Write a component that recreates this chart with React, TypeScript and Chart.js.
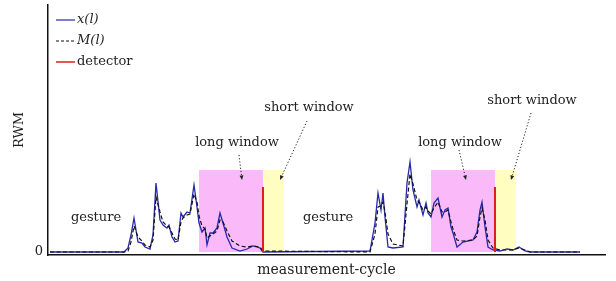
import React, { useEffect, useRef } from "react";
import { Chart, registerables } from "chart.js";

Chart.register(...registerables);

// measurement-cycle positions of the sampled points
const cycles = [
  1, 38, 40, 41.5, 43, 45, 47, 48.5, 51, 52.5, 54, 56, 57.5, 59.5, 60.5, 62, 63.5, 65, 66.5, 67.5,
  69.5, 71, 73, 74.5, 75.5, 77, 78.5, 79.5, 81, 82.5, 84.5, 86, 87.5, 89.5, 92, 96, 99.5, 102.5,
  106, 107.5, 161, 163.5, 165, 166.5, 167.5, 168.5, 170, 172.5, 177.5, 179.5, 181, 182.5, 184.5,
  185.5, 187.5, 189, 190, 191.5, 193, 195, 197, 198.5, 200, 201.5, 202.5, 204.5, 207.5, 212.5,
  214.5, 216, 217, 218.5, 220, 222.5, 226, 229.5, 232.5, 235.5, 238.5, 241, 266,
];
// RWM signal x(l)
const xValues = [
  0, 0, 0.4, 1.7, 3.4, 1.0, 0.9, 0.5, 0.3, 1.7, 6.9, 3.2, 2.7, 2.4, 2.7, 1.5, 1.0, 1.1, 3.9, 3.5,
  4.0, 3.9, 6.7, 4.5, 2.9, 2.0, 2.4, 0.7, 1.9, 1.9, 2.4, 3.9, 2.9, 1.5, 0.4, 0.1, 0.3, 0.6,
  0.4, 0, 0.1, 2.9, 5.9, 4.2, 5.9, 3.5, 0.5, 0.4, 0.5, 6.9, 9.0, 6.2, 4.5,
  5.2, 3.7, 4.9, 3.9, 3.5, 4.9, 5.4, 3.5, 4.2, 4.4, 2.5, 1.9, 0.5, 1.0, 1.2,
  2.0, 4.2, 5.0, 2.5, 0.5, 0.2, 0.1, 0.3, 0.2, 0.5, 0.1, 0, 0,
];
// smoothed signal M(l)
const mValues = [
  0, 0, 0.1, 1.0, 2.6, 1.5, 1.1, 0.7, 0.5, 1.2, 5.5, 4.0, 3.0, 2.6, 2.5, 1.9, 1.3, 1.2, 3.0, 3.4,
  3.7, 3.8, 5.8, 5.0, 3.6, 2.6, 2.3, 1.4, 1.6, 1.8, 2.1, 3.2, 3.0, 2.1, 1.1, 0.6, 0.5, 0.6,
  0.5, 0.1, 0, 1.8, 4.5, 4.6, 5.0, 4.0, 1.8, 0.8, 0.6, 4.8, 7.8, 6.8, 5.2,
  5.0, 4.2, 4.5, 4.1, 3.8, 4.4, 5.0, 4.0, 4.0, 4.2, 3.0, 2.3, 1.2, 1.1, 1.2,
  1.6, 3.5, 4.4, 3.2, 1.2, 0.4, 0.2, 0.2, 0.2, 0.4, 0.2, 0, 0,
];
// windows
const longWindowStart = [75.5, 191.5];
const detectorCycle = [107.5, 223.5];
const shortWindowEnd = [118, 234];
const windowHeight = 8.2;
const detectorHeight = 6.5;
// annotation texts
const gestureLabelCycle = [24, 140];
const gestureLabelValue = 3.4;
const longLabelCycle = [94.5, 206];
const longLabelValue = 10.9;
const shortLabelCycle = [130.5, 242];
const shortLabelValue = [14.4, 15.1];
// dotted arrows: [fromCycle, fromValue, toCycle, toValue]
const longArrows = [
  [95.5, 9.7, 97, 7.2],
  [205.5, 10.2, 209, 7.2],
];
const shortArrows = [
  [129.5, 13.1, 116, 7.2],
  [241.5, 13.9, 231.5, 7.2],
];

const yMin = -0.3;
const yMax = 24.7;
const xMin = 0;
const xMax = 278.5;

const SERIF = "'DejaVu Serif', 'Liberation Serif', serif";
const BLUE = "rgb(40,40,170)";
const RED = "rgb(225,30,30)";
const PINK = "rgb(250,186,250)";
const YELLOW = "rgb(255,253,192)";

export default function App() {
  const ref = useRef<HTMLCanvasElement | null>(null);

  useEffect(() => {
    document.body.style.margin = "0";
    const canvas = ref.current;
    if (!canvas) return;

    const xData = cycles.map((c, i) => ({ x: c, y: xValues[i] }));
    const mData = cycles.map((c, i) => ({ x: c, y: mValues[i] }));
    const detData: any[] = [];
    detectorCycle.forEach((c, i) => {
      detData.push({ x: c, y: 0 }, { x: c, y: detectorHeight });
      if (i < detectorCycle.length - 1) detData.push({ x: c + 1, y: null });
    });

    const windowsPlugin = {
      id: "windows",
      beforeDatasetsDraw(chart: any) {
        const { ctx, scales } = chart;
        const xs = scales.x;
        const ys = scales.y;
        ctx.save();
        longWindowStart.forEach((s, i) => {
          const top = ys.getPixelForValue(windowHeight);
          const base = ys.getPixelForValue(0);
          const x0 = xs.getPixelForValue(s);
          const x1 = xs.getPixelForValue(detectorCycle[i]);
          const x2 = xs.getPixelForValue(shortWindowEnd[i]);
          ctx.fillStyle = PINK;
          ctx.fillRect(x0, top, x1 - x0, base - top);
          ctx.fillStyle = YELLOW;
          ctx.fillRect(x1, top, x2 - x1, base - top);
        });
        ctx.restore();
      },
    };

    const drawArrow = (ctx: any, xs: any, ys: any, a: number[]) => {
      const x0 = xs.getPixelForValue(a[0]);
      const y0 = ys.getPixelForValue(a[1]);
      const x1 = xs.getPixelForValue(a[2]);
      const y1 = ys.getPixelForValue(a[3]);
      const ang = Math.atan2(y1 - y0, x1 - x0);
      const hl = 5;
      ctx.save();
      ctx.strokeStyle = "#222";
      ctx.lineWidth = 1;
      ctx.setLineDash([1.2, 2]);
      ctx.beginPath();
      ctx.moveTo(x0, y0);
      ctx.lineTo(x1 - Math.cos(ang) * hl, y1 - Math.sin(ang) * hl);
      ctx.stroke();
      ctx.setLineDash([]);
      ctx.fillStyle = "#222";
      ctx.beginPath();
      ctx.moveTo(x1, y1);
      ctx.lineTo(x1 - hl * Math.cos(ang - 0.4), y1 - hl * Math.sin(ang - 0.4));
      ctx.lineTo(x1 - hl * Math.cos(ang + 0.4), y1 - hl * Math.sin(ang + 0.4));
      ctx.closePath();
      ctx.fill();
      ctx.restore();
    };

    const annotationsPlugin = {
      id: "annotations",
      afterDatasetsDraw(chart: any) {
        const { ctx, scales } = chart;
        const xs = scales.x;
        const ys = scales.y;
        ctx.save();
        ctx.fillStyle = "#222";
        ctx.font = `13px ${SERIF}`;
        ctx.textAlign = "center";
        ctx.textBaseline = "middle";
        gestureLabelCycle.forEach((c) => {
          ctx.fillText("gesture", xs.getPixelForValue(c), ys.getPixelForValue(gestureLabelValue));
        });
        longLabelCycle.forEach((c) => {
          ctx.fillText("long window", xs.getPixelForValue(c), ys.getPixelForValue(longLabelValue));
        });
        shortLabelCycle.forEach((c, i) => {
          ctx.fillText("short window", xs.getPixelForValue(c), ys.getPixelForValue(shortLabelValue[i]));
        });
        ctx.restore();
        longArrows.forEach((a) => drawArrow(ctx, xs, ys, a));
        shortArrows.forEach((a) => drawArrow(ctx, xs, ys, a));
      },
    };

    const legendPlugin = {
      id: "customLegend",
      afterDraw(chart: any) {
        const { ctx, chartArea } = chart;
        const items = [
          { label: "x(l)", color: BLUE, dash: [] as number[], italic: true, width: 1.2 },
          { label: "M(l)", color: "#111", dash: [3, 2], italic: true, width: 1.2 },
          { label: "detector", color: RED, dash: [] as number[], italic: false, width: 1.5 },
        ];
        ctx.save();
        items.forEach((it, i) => {
          const y = chartArea.top + 15 + i * 21;
          const x = chartArea.left + 8;
          ctx.strokeStyle = it.color;
          ctx.lineWidth = it.width;
          ctx.setLineDash(it.dash);
          ctx.beginPath();
          ctx.moveTo(x, y);
          ctx.lineTo(x + 19, y);
          ctx.stroke();
          ctx.setLineDash([]);
          ctx.fillStyle = "#222";
          ctx.font = `${it.italic ? "italic " : ""}13px ${SERIF}`;
          ctx.textAlign = "left";
          ctx.textBaseline = "middle";
          ctx.fillText(it.label, x + 21, y);
        });
        ctx.restore();
      },
    };

    const chart = new Chart(canvas, {
      type: "line",
      data: {
        datasets: [
          {
            label: "detector",
            data: detData,
            borderColor: RED,
            borderWidth: 2,
            pointRadius: 0,
            spanGaps: false,
            order: 0,
          },
          {
            label: "M(l)",
            data: mData,
            borderColor: "#111",
            borderWidth: 1.2,
            borderDash: [4, 2.5],
            pointRadius: 0,
            tension: 0,
            order: 1,
          },
          {
            label: "x(l)",
            data: xData,
            borderColor: BLUE,
            borderWidth: 1.3,
            pointRadius: 0,
            tension: 0,
            order: 2,
          },
        ],
      },
      options: {
        animation: false,
        responsive: false,
        layout: { padding: { left: 0, right: 11, top: 5, bottom: 0 } },
        plugins: {
          legend: { display: false },
          tooltip: { enabled: false },
        },
        scales: {
          x: {
            type: "linear",
            min: xMin,
            max: xMax,
            grid: { display: false, drawTicks: false },
            border: { display: true, color: "#111", width: 1.5 },
            ticks: { display: false },
            title: {
              display: true,
              text: "measurement-cycle",
              color: "#222",
              font: { family: SERIF, size: 14 },
              padding: { top: 0, bottom: 2 },
            },
            afterFit(scale: any) {
              scale.height = 26;
              scale.paddingLeft = 0;
              scale.paddingRight = 0;
            },
          },
          y: {
            type: "linear",
            min: yMin,
            max: yMax,
            grid: { display: false, drawTicks: false },
            border: { display: true, color: "#111", width: 1.5 },
            afterBuildTicks(scale: any) {
              scale.ticks = [{ value: 0 }];
            },
            ticks: {
              color: "#222",
              padding: 5,
              font: { family: SERIF, size: 13 },
              callback: (v: any) => String(v),
            },
            title: {
              display: true,
              text: "RWM",
              color: "#222",
              font: { family: SERIF, size: 13 },
              padding: { top: 12, bottom: 0 },
            },
            afterFit(scale: any) {
              scale.width = 48;
              scale.paddingTop = 0;
              scale.paddingBottom = 0;
            },
          },
        },
      } as any,
      plugins: [windowsPlugin, annotationsPlugin, legendPlugin],
    });

    return () => chart.destroy();
  }, []);

  return (
    <div style={{ width: 616, height: 281, background: "#fff" }}>
      <canvas ref={ref} width={616} height={281} style={{ display: "block" }} />
    </div>
  );
}
